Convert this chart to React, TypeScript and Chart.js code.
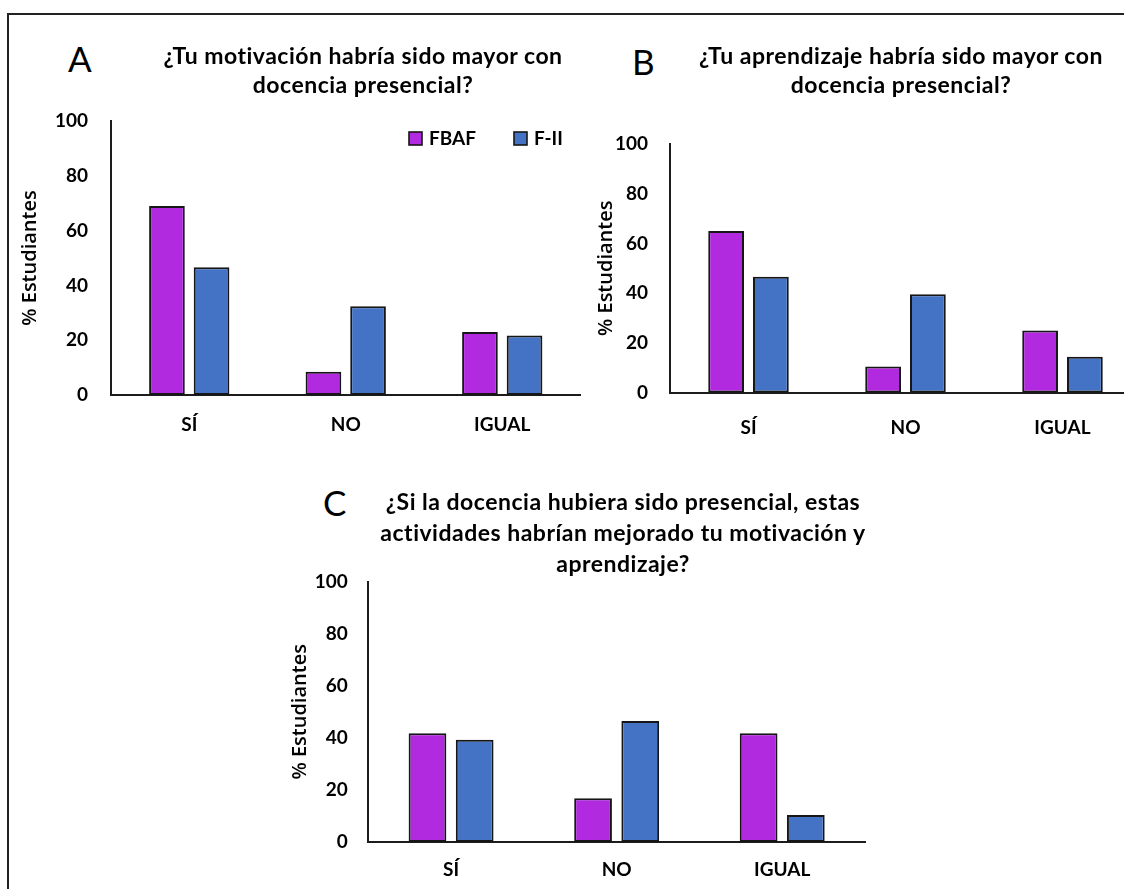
import React, { useEffect, useRef } from 'react';
import { Chart, registerables } from 'chart.js';

Chart.register(...registerables);

// ---- data ----
const categories = ['SÍ', 'NO', 'IGUAL'];
const seriesNames = ['FBAF', 'F-II'];
const yAxisTitle = '% Estudiantes';

const motivacionFBAF = [69, 8.5, 23];
const motivacionFII = [46.6, 32.4, 21.7];

const aprendizajeFBAF = [65, 10.5, 25];
const aprendizajeFII = [46.6, 39.5, 14.4];

const actividadesFBAF = [41.8, 16.8, 41.8];
const actividadesFII = [39.3, 46.5, 10.4];

const titleA = ['¿Tu motivación habría sido mayor con', 'docencia presencial?'];
const titleB = ['¿Tu aprendizaje habría sido mayor con', 'docencia presencial?'];
const titleC = [
  '¿Si la docencia hubiera sido presencial, estas',
  'actividades habrían mejorado tu motivación y',
  'aprendizaje?',
];

// ---- styles ----
const FONT = 'Lato, "Open Sans", sans-serif';
const PURPLE = '#B12ADF';
const BLUE = '#4472C4';
const EDGE = '#161616';
const AXIS = '#1c1c1c';
// legend box left edges measured from the right edge of the plot area
const LEGEND_OFFSETS = [171.5, 66.5];

const insideLegendPlugin = {
  id: 'insideLegend',
  afterDraw(chart: any) {
    const { ctx, chartArea } = chart;
    ctx.save();
    chart.data.datasets.forEach((ds: any, i: number) => {
      const x = chartArea.right - LEGEND_OFFSETS[i];
      const y = chartArea.top + 11;
      ctx.fillStyle = ds.backgroundColor;
      ctx.fillRect(x, y, 13, 13);
      ctx.lineWidth = 1.6;
      ctx.strokeStyle = EDGE;
      ctx.strokeRect(x, y, 13, 13);
      ctx.fillStyle = '#000';
      ctx.font = 'bold 19px ' + FONT;
      ctx.textBaseline = 'middle';
      ctx.textAlign = 'left';
      ctx.fillText(ds.label, x + 20, y + 7);
    });
    ctx.restore();
  },
};

type PanelCfg = {
  fbaf: number[];
  fii: number[];
  canvasLeft: number;
  canvasTop: number;
  canvasW: number;
  canvasH: number;
  areaLeft: number;
  areaTop: number;
  areaRight: number;
  areaBottom: number;
  xAxisH: number;
  xTickPad: number;
  yTickPad: number;
  yTitlePad: number;
  showLegend: boolean;
};

function BarPanel({ cfg }: { cfg: PanelCfg }) {
  const ref = useRef<HTMLCanvasElement | null>(null);
  useEffect(() => {
    const c = cfg;
    const yW = c.areaLeft - c.canvasLeft;
    const xH = c.xAxisH;
    const tickFont = { family: FONT, size: 19, weight: 'bold' as const };
    const chart = new Chart(ref.current as HTMLCanvasElement, {
      type: 'bar',
      data: {
        labels: categories,
        datasets: [
          {
            label: seriesNames[0],
            data: c.fbaf,
            backgroundColor: PURPLE,
            borderColor: EDGE,
            borderWidth: 2,
            borderSkipped: false,
          },
          {
            label: seriesNames[1],
            data: c.fii,
            backgroundColor: BLUE,
            borderColor: EDGE,
            borderWidth: 2,
            borderSkipped: false,
          },
        ],
      },
      options: {
        animation: false,
        responsive: false,
        maintainAspectRatio: false,
        layout: {
          padding: {
            left: 0,
            top: c.areaTop - c.canvasTop,
            right: c.canvasLeft + c.canvasW - c.areaRight,
            bottom: c.canvasTop + c.canvasH - c.areaBottom - xH,
          },
        },
        datasets: { bar: { categoryPercentage: 0.57, barPercentage: 0.8 } },
        plugins: {
          tooltip: { enabled: false },
          title: { display: false },
          legend: { display: false },
        },
        scales: {
          x: {
            grid: { display: false, drawTicks: false },
            border: { display: true, color: AXIS, width: 2 },
            ticks: { padding: c.xTickPad, color: '#000', font: tickFont },
            afterFit: (s: any) => {
              s.height = xH;
            },
          },
          y: {
            min: 0,
            max: 100,
            grid: { display: false, drawTicks: false },
            border: { display: true, color: AXIS, width: 2 },
            ticks: { stepSize: 20, padding: c.yTickPad, color: '#000', font: tickFont },
            title: {
              display: true,
              text: yAxisTitle,
              color: '#000',
              font: { family: '"Open Sans", sans-serif', size: 20, weight: '600' as any },
              padding: { top: c.yTitlePad, bottom: 0 },
            },
            afterFit: (s: any) => {
              s.width = yW;
            },
          },
        },
      },
      plugins: c.showLegend ? [insideLegendPlugin] : [],
    });
    return () => chart.destroy();
  }, [cfg]);
  return (
    <canvas
      ref={ref}
      width={cfg.canvasW}
      height={cfg.canvasH}
      style={{
        position: 'absolute',
        left: cfg.canvasLeft,
        top: cfg.canvasTop,
        width: cfg.canvasW,
        height: cfg.canvasH,
      }}
    />
  );
}

const panelA: PanelCfg = {
  fbaf: motivacionFBAF,
  fii: motivacionFII,
  canvasLeft: 10,
  canvasTop: 80,
  canvasW: 580,
  canvasH: 370,
  areaLeft: 111,
  areaTop: 121,
  areaRight: 580.5,
  areaBottom: 395,
  xAxisH: 50,
  xTickPad: 18,
  yTickPad: 23,
  yTitlePad: 8,
  showLegend: true,
};

const panelB: PanelCfg = {
  fbaf: aprendizajeFBAF,
  fii: aprendizajeFII,
  canvasLeft: 580,
  canvasTop: 100,
  canvasW: 570,
  canvasH: 350,
  areaLeft: 670,
  areaTop: 144,
  areaRight: 1141,
  areaBottom: 392.5,
  xAxisH: 50,
  xTickPad: 24,
  yTickPad: 22,
  yTitlePad: 14,
  showLegend: false,
};

const panelC: PanelCfg = {
  fbaf: actividadesFBAF,
  fii: actividadesFII,
  canvasLeft: 270,
  canvasTop: 540,
  canvasW: 610,
  canvasH: 349,
  areaLeft: 368.3,
  areaTop: 581.7,
  areaRight: 865,
  areaBottom: 842,
  xAxisH: 42,
  xTickPad: 16,
  yTickPad: 20.5,
  yTitlePad: 18,
  showLegend: false,
};

function Title({ lines, cx, top, lh }: { lines: string[]; cx: number; top: number; lh: number }) {
  return (
    <div
      style={{
        position: 'absolute',
        left: cx - 320,
        top,
        width: 640,
        textAlign: 'center',
        fontFamily: FONT,
        fontWeight: 700,
        fontSize: 23,
        letterSpacing: '0.5px',
        lineHeight: lh + 'px',
        color: '#000',
        whiteSpace: 'pre',
      }}
    >
      {lines.join('\n')}
    </div>
  );
}

function Letter({ ch, left, top }: { ch: string; left: number; top: number }) {
  return (
    <div
      style={{
        position: 'absolute',
        left,
        top,
        fontFamily: FONT,
        fontSize: 35,
        lineHeight: '35px',
        color: '#000',
      }}
    >
      {ch}
    </div>
  );
}

export default function App() {
  return (
    <div
      style={{
        position: 'absolute',
        left: 0,
        top: 0,
        width: 1124,
        height: 889,
        overflow: 'hidden',
        background: '#fff',
      }}
    >
      <div
        style={{
          position: 'absolute',
          left: 7,
          top: 13,
          width: 1300,
          height: 1000,
          border: '2px solid #222',
          boxSizing: 'border-box',
        }}
      />
      <BarPanel cfg={panelA} />
      <BarPanel cfg={panelB} />
      <BarPanel cfg={panelC} />
      <Letter ch="A" left={68} top={41} />
      <Letter ch="B" left={632} top={44} />
      <Letter ch="C" left={323} top={485} />
      <Title lines={titleA} cx={363} top={41} lh={29} />
      <Title lines={titleB} cx={901} top={41} lh={29} />
      <Title lines={titleC} cx={623} top={486} lh={31} />
    </div>
  );
}
